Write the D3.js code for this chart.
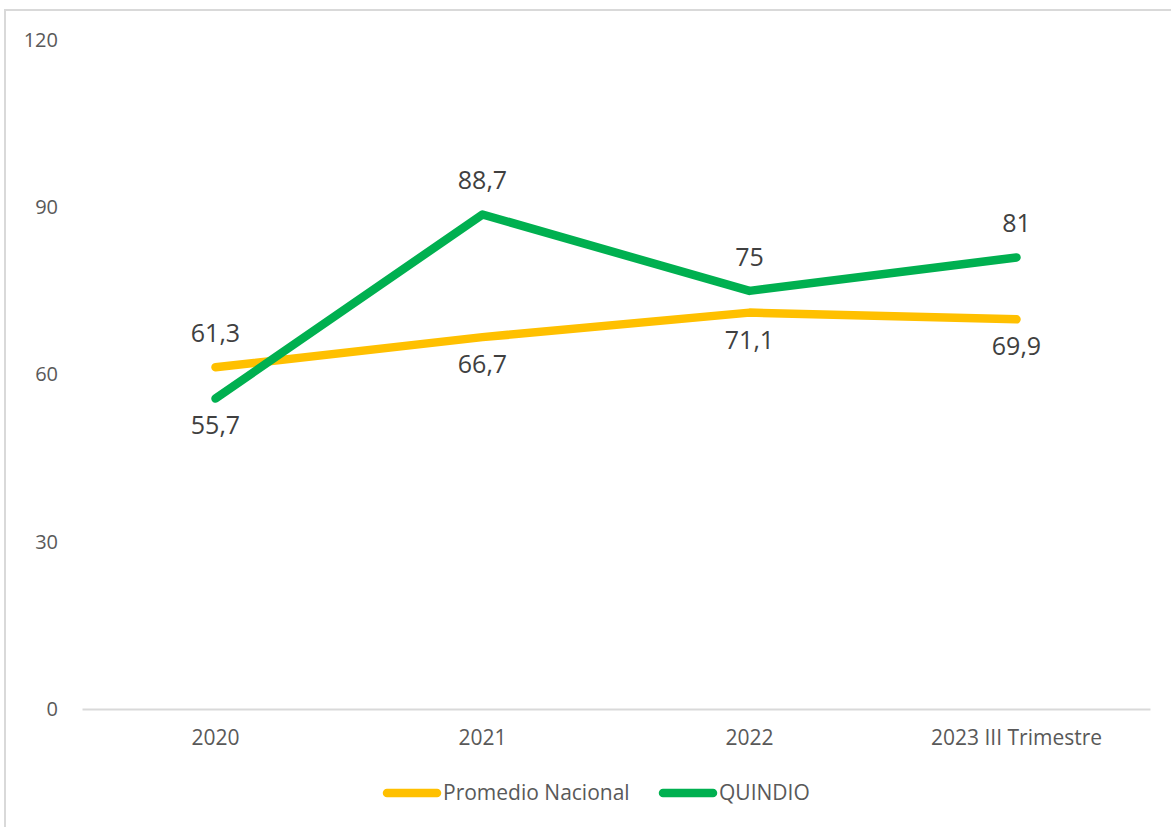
<!DOCTYPE html>
<html>
<head>
<meta charset="utf-8">
<script src="https://cdn.jsdelivr.net/npm/d3@7"></script>
<style>
  body { margin: 0; background: #fff; }
  text { font-family: "Open Sans", sans-serif; }
</style>
</head>
<body>
<script>
// chart data
var categories = ["2020", "2021", "2022", "2023 III Trimestre"];
var promedioNacional = [61.3, 66.7, 71.1, 69.9];
var quindio = [55.7, 88.7, 75, 81];
var yTicks = [0, 30, 60, 90, 120];

// where the value labels sit (above / below the point)
var promedioLabelPos = ["above", "below", "below", "below"];
var quindioLabelPos = ["below", "above", "above", "above"];

var svgWidth = 1171;
var svgHeight = 827;

var margin = { top: 40, right: 21, bottom: 118, left: 82 };
var chartWidth = svgWidth - margin.left - margin.right;
var chartHeight = svgHeight - margin.top - margin.bottom;

var svg = d3.select("body").append("svg")
    .attr("width", svgWidth)
    .attr("height", svgHeight);

// outer frame
svg.append("rect")
    .attr("x", 5)
    .attr("y", 10)
    .attr("width", svgWidth)
    .attr("height", svgHeight)
    .attr("fill", "none")
    .attr("stroke", "#d9d9d9")
    .attr("stroke-width", 2);

var chartGroup = svg.append("g")
    .attr("transform", `translate(${margin.left}, ${margin.top})`);

var xScale = d3.scaleBand()
    .domain(categories)
    .range([0, chartWidth]);

var yScale = d3.scaleLinear()
    .domain([0, 120])
    .range([chartHeight, 0]);

// y axis labels (no line)
var yAxis = chartGroup.append("g")
    .call(d3.axisLeft(yScale).tickValues(yTicks).tickSize(0).tickPadding(24));
yAxis.select(".domain").remove();
yAxis.selectAll("text")
    .attr("fill", "#595959")
    .style("font-size", "20px")
    .style("font-family", "Open Sans, sans-serif");

// x axis
var xAxis = chartGroup.append("g")
    .attr("transform", `translate(0, ${chartHeight})`)
    .call(d3.axisBottom(xScale).tickSize(0).tickPadding(21));
xAxis.select(".domain").attr("stroke", "#d9d9d9").attr("stroke-width", 2);
xAxis.selectAll("text")
    .attr("fill", "#595959")
    .style("font-size", "21px")
    .style("font-family", "Open Sans, sans-serif");

var cx = d => xScale(d) + xScale.bandwidth() / 2;

var series = [
    { name: "Promedio Nacional", values: promedioNacional, color: "#FFC000", pos: promedioLabelPos },
    { name: "QUINDIO", values: quindio, color: "#00B050", pos: quindioLabelPos }
];

var line = d3.line()
    .x((d, i) => cx(categories[i]))
    .y(d => yScale(d));

series.forEach(s => {
    chartGroup.append("path")
        .datum(s.values)
        .attr("d", line)
        .attr("fill", "none")
        .attr("stroke", s.color)
        .attr("stroke-width", 8.5)
        .attr("stroke-linecap", "round")
        .attr("stroke-linejoin", "round");
});

series.forEach(s => {
    chartGroup.selectAll(null)
        .data(s.values)
        .enter()
        .append("text")
        .attr("x", (d, i) => cx(categories[i]))
        .attr("y", (d, i) => yScale(d) + (s.pos[i] === "above" ? -25 : 36))
        .attr("text-anchor", "middle")
        .attr("fill", "#404040")
        .style("font-size", "25px")
        .text(d => String(d).replace(".", ","));
});

// legend
var legend = svg.append("g");
var legendItems = [
    { x: 383, s: series[0] },
    { x: 659, s: series[1] }
];
legendItems.forEach(item => {
    legend.append("line")
        .attr("x1", item.x + 4)
        .attr("x2", item.x + 54)
        .attr("y1", 793)
        .attr("y2", 793)
        .attr("stroke", item.s.color)
        .attr("stroke-width", 8.5)
        .attr("stroke-linecap", "round");
    legend.append("text")
        .attr("x", item.x + 60)
        .attr("y", 793)
        .attr("dy", "0.35em")
        .attr("fill", "#595959")
        .style("font-size", "21px")
        .text(item.s.name);
});
</script>
</body>
</html>
